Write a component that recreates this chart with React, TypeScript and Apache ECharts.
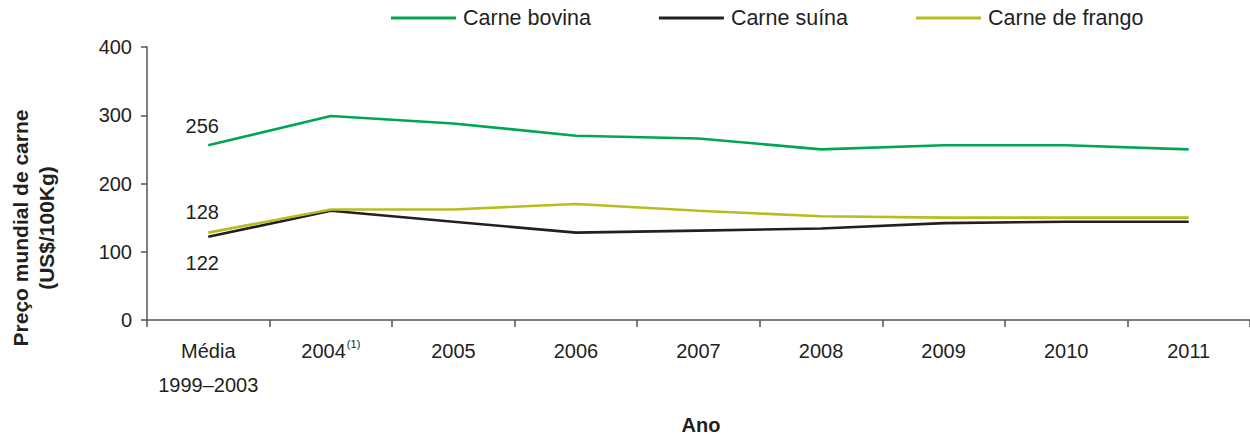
import React, { useEffect, useRef } from "react";
import * as echarts from "echarts";

const categories = ["Média\n1999–2003", "2004", "2005", "2006", "2007", "2008", "2009", "2010", "2011"];
const seriesNames = ["Carne bovina", "Carne suína", "Carne de frango"];
const bovina = [256, 299, 288, 270, 266, 250, 256, 256, 250];
const suina = [122, 160, 144, 128, 131, 134, 142, 144, 144];
const frango = [128, 162, 162, 170, 160, 152, 150, 150, 150];
const yTicks = [0, 100, 200, 300, 400];

const GREEN = "#00a651";
const BLACK = "#231f20";
const OLIVE = "#b5bd1f";
const AXIS = "#555555";
const TEXT = "#231f20";
const FONT = "'Liberation Sans', Arial, sans-serif";

function firstLabel(values: number[], position: string, offset: number[]) {
  return values.map((v, i) =>
    i === 0
      ? {
          value: v,
          label: {
            show: true,
            position,
            offset,
            color: TEXT,
            fontSize: 20,
            fontFamily: FONT,
            formatter: String(v),
          },
        }
      : v
  );
}

export default function App() {
  const ref = useRef<HTMLDivElement>(null);

  useEffect(() => {
    if (!ref.current) return;
    const chart = echarts.init(ref.current, undefined, { renderer: "svg" });
    const lineSeries = (name: string, color: string, data: any[]) => ({
      name,
      type: "line",
      data,
      showSymbol: true,
      symbol: "circle",
      symbolSize: 0,
      lineStyle: { color, width: 2.6 },
      itemStyle: { color },
    });

    chart.setOption({
      animation: false,
      backgroundColor: "#ffffff",
      grid: { left: 147, top: 47, bottom: 115, right: -9, containLabel: false },
      legend: {
        left: 391,
        top: 7,
        padding: 0,
        icon: "rect",
        itemWidth: 65,
        itemHeight: 3,
        itemGap: 68,
        textStyle: {
          fontSize: 21.5,
          fontFamily: FONT,
          color: TEXT,
          padding: [0, 0, 0, 2],
        },
        data: seriesNames,
      },
      xAxis: {
        type: "category",
        data: categories,
        boundaryGap: true,
        axisLine: { lineStyle: { color: AXIS, width: 1.5 } },
        axisTick: { show: true, length: 7, lineStyle: { color: AXIS, width: 1.5 } },
        axisLabel: {
          interval: 0,
          margin: 14,
          color: TEXT,
          fontSize: 20,
          lineHeight: 34,
          fontFamily: FONT,
          formatter: (v: string) => (v === "2004" ? "{a|2004}{sup|(1)}" : v),
          rich: {
            a: { fontSize: 20, lineHeight: 34, fontFamily: FONT, color: TEXT },
            sup: { fontSize: 11, lineHeight: 34, fontFamily: FONT, color: TEXT, padding: [0, 0, 14, 1] },
          },
        },
        splitLine: { show: false },
      },
      yAxis: {
        type: "value",
        min: yTicks[0],
        max: yTicks[yTicks.length - 1],
        interval: 100,
        axisLine: { show: true, lineStyle: { color: AXIS, width: 1.5 } },
        axisTick: { show: true, length: 6, lineStyle: { color: AXIS, width: 1.5 } },
        axisLabel: { margin: 15, color: TEXT, fontSize: 20, fontFamily: FONT },
        splitLine: { show: false },
      },
      graphic: [
        {
          type: "text",
          x: 33,
          y: 228,
          rotation: Math.PI / 2,
          style: {
            text: "Preço mundial de carne\n(US$/100Kg)",
            fontSize: 21,
            fontWeight: "bold",
            fontFamily: FONT,
            fill: TEXT,
            align: "center",
            verticalAlign: "middle",
            lineHeight: 26,
          },
        },
        {
          type: "text",
          x: 701,
          y: 425,
          style: {
            text: "Ano",
            fontSize: 20,
            fontWeight: "bold",
            fontFamily: FONT,
            fill: TEXT,
            align: "center",
            verticalAlign: "middle",
          },
        },
      ],
      series: [
        lineSeries(seriesNames[0], GREEN, firstLabel(bovina, "top", [-6, -4])),
        lineSeries(seriesNames[1], BLACK, firstLabel(suina, "bottom", [-6, 11])),
        lineSeries(seriesNames[2], OLIVE, firstLabel(frango, "top", [-6, -6])),
      ],
    });
    return () => chart.dispose();
  }, []);

  return (
    <div
      ref={ref}
      style={{ position: "absolute", left: 0, top: 0, width: 1250, height: 435, background: "#fff" }}
    />
  );
}
